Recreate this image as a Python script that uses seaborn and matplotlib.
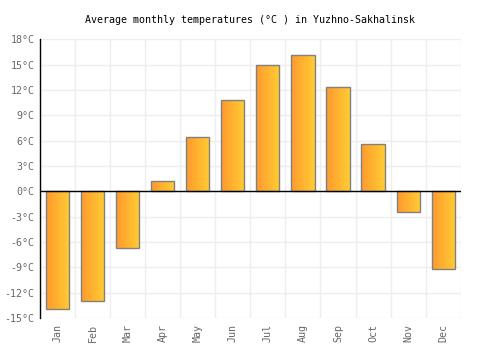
import numpy as np
import pandas as pd
import seaborn as sns
import matplotlib.pyplot as plt
from matplotlib.colors import LinearSegmentedColormap

months = ['Jan', 'Feb', 'Mar', 'Apr', 'May', 'Jun', 'Jul', 'Aug', 'Sep', 'Oct', 'Nov', 'Dec']
temps = [-13.9, -13.0, -6.7, 1.2, 6.4, 10.8, 14.9, 16.2, 12.3, 5.6, -2.4, -9.2]
yticks = [-15, -12, -9, -6, -3, 0, 3, 6, 9, 12, 15, 18]

df = pd.DataFrame({'month': months, 'temp': temps})

sns.set_style('white')
plt.rcParams['font.family'] = ['DejaVu Sans Mono']

fig = plt.figure(figsize=(5, 3.5), dpi=100)
ax = fig.add_axes([0.08, 0.0914, 0.8414, 0.7963])

sns.barplot(data=df, x='month', y='temp', ax=ax, width=0.66,
            color='#ffb030', edgecolor='#808080', linewidth=1.0, zorder=3)

# gradient fill inside each bar
cmap = LinearSegmentedColormap.from_list('og', ['#ff9a2e', '#ffcc33'])
grad = np.linspace(0, 1, 64).reshape(1, -1)
for p in ax.patches:
    x0, y0 = p.get_x(), p.get_y()
    w, h = p.get_width(), p.get_height()
    im = ax.imshow(grad, cmap=cmap, aspect='auto', zorder=3.5,
                   extent=[x0, x0 + w, min(y0, y0 + h), max(y0, y0 + h)])
    im.set_clip_path(p)
    p.set_facecolor('none')
    p.set_zorder(4)

ax.set_xlim(-0.5, len(months) - 0.5)
ax.set_ylim(-15, 18)
ax.set_yticks(yticks)
ax.set_yticklabels([f'{t}°C' for t in yticks])
ax.set_xticks(range(len(months)))
ax.set_xticklabels(months, rotation=90)
ax.set_xticks(np.arange(-0.5, len(months)), minor=True)
ax.tick_params(axis='both', which='both', length=0, labelsize=7.2, labelcolor='#666666', pad=4)
ax.grid(True, which='minor', axis='x', color='#eeeeee', linewidth=1, zorder=0)
ax.grid(True, which='major', axis='y', color='#eeeeee', linewidth=1, zorder=0)
ax.axhline(0, color='black', linewidth=1, zorder=5)
ax.set_xlabel('')
ax.set_ylabel('')

for s in ['top', 'right', 'bottom']:
    ax.spines[s].set_visible(False)
ax.spines['left'].set_color('black')
ax.spines['left'].set_linewidth(1)
ax.spines['left'].set_zorder(6)

fig.text(0.5, 0.943, 'Average monthly temperatures (°C ) in Yuzhno-Sakhalinsk',
         ha='center', va='center', fontsize=7.2, color='black')

fig.savefig('out.png', dpi=100)
